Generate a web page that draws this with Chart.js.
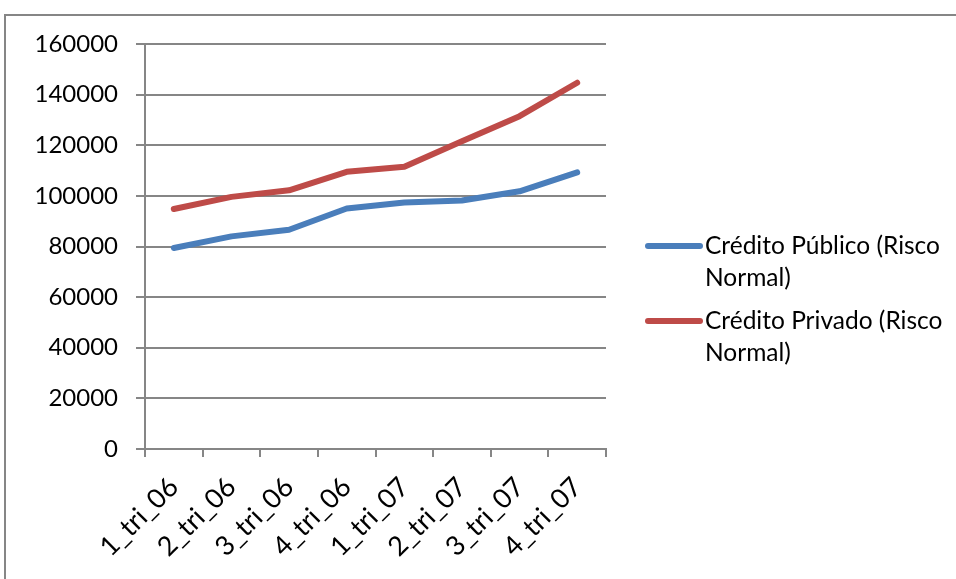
<!DOCTYPE html>
<html>
<head>
<meta charset="utf-8">
<script src="https://cdn.jsdelivr.net/npm/chart.js@4.4.1/dist/chart.umd.min.js"></script>
<style>
    html, body { margin: 0; padding: 0; background: #fff; overflow: hidden; }
    #wrap { position: relative; width: 956px; height: 579px; }
    #frame {
        position: absolute; left: 4px; top: 14px; width: 1200px; height: 1200px;
        border: 2px solid #868686; box-sizing: border-box; pointer-events: none;
    }
    canvas { position: absolute; left: 0; top: 0; }
</style>
</head>
<body>
<div id="wrap">
    <div id="frame"></div>
    <canvas id="chart" width="956" height="579"></canvas>
</div>
<script>
    // Quarterly data
    const quarters = ['1_tri_06', '2_tri_06', '3_tri_06', '4_tri_06', '1_tri_07', '2_tri_07', '3_tri_07', '4_tri_07'];
    const publicCredit = [79400, 84000, 86600, 95000, 97400, 98200, 101800, 109300];
    const privateCredit = [94800, 99600, 102200, 109500, 111500, 121600, 131500, 144700];
    const seriesNames = [['Crédito Público (Risco', 'Normal)'], ['Crédito Privado (Risco', 'Normal)']];
    const yTicks = [0, 20000, 40000, 60000, 80000, 100000, 120000, 140000, 160000];

    const FONT = 'Lato, "Open Sans", sans-serif';
    const FONT_SIZE = 24.5;
    const GRID = '#868686';

    // Legend drawn at the right, with wrapped labels
    const sideLegend = {
        id: 'sideLegend',
        afterDraw(chart) {
            const c = chart.ctx;
            c.save();
            c.font = FONT_SIZE + 'px ' + FONT;
            c.textBaseline = 'middle';
            c.fillStyle = '#000';
            chart.data.datasets.forEach((ds, i) => {
                const y = 246 + i * 75;
                c.strokeStyle = ds.borderColor;
                c.lineWidth = 6;
                c.lineCap = 'round';
                c.beginPath();
                c.moveTo(648, y);
                c.lineTo(700, y);
                c.stroke();
                seriesNames[i].forEach((line, j) => {
                    c.fillText(line, 705, y + j * 32);
                });
            });
            c.restore();
        }
    };

    const ctx = document.getElementById('chart').getContext('2d');
    const chart = new Chart(ctx, {
        type: 'line',
        data: {
            labels: quarters,
            datasets: [{
                label: seriesNames[0].join(' '),
                data: publicCredit,
                borderColor: '#4a7ebb',
                borderWidth: 6,
                pointRadius: 0,
                tension: 0,
                borderCapStyle: 'round',
                borderJoinStyle: 'round'
            }, {
                label: seriesNames[1].join(' '),
                data: privateCredit,
                borderColor: '#be4b48',
                borderWidth: 6,
                pointRadius: 0,
                tension: 0,
                borderCapStyle: 'round',
                borderJoinStyle: 'round'
            }]
        },
        options: {
            responsive: false,
            animation: false,
            layout: {
                padding: { top: 44, right: 350, left: 0, bottom: 0 }
            },
            scales: {
                x: {
                    offset: true,
                    grid: {
                        offset: true,
                        drawOnChartArea: false,
                        color: GRID,
                        lineWidth: 2,
                        tickLength: 8
                    },
                    border: { color: GRID, width: 2 },
                    ticks: {
                        color: '#000',
                        font: { family: FONT, size: 27 },
                        minRotation: 45,
                        maxRotation: 45,
                        padding: 14
                    },
                    afterFit(scale) { scale.height = 130; }
                },
                y: {
                    min: 0,
                    max: 160000,
                    afterBuildTicks(scale) {
                        scale.ticks = yTicks.map(v => ({ value: v }));
                    },
                    grid: {
                        color: GRID,
                        lineWidth: 2,
                        tickLength: 9
                    },
                    border: { color: GRID, width: 2 },
                    ticks: {
                        color: '#000',
                        font: { family: FONT, size: 24 },
                        padding: 18,
                        callback: v => String(v)
                    },
                    afterFit(scale) { scale.width = 145; }
                }
            },
            plugins: {
                legend: { display: false },
                tooltip: { enabled: false }
            }
        },
        plugins: [sideLegend]
    });
</script>
</body>
</html>
